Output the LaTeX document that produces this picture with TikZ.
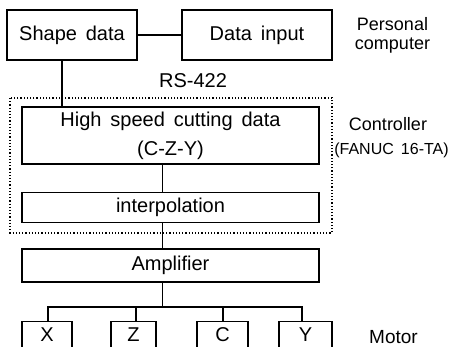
\documentclass[tikz,border=0pt]{standalone}
\usepackage{fontspec}
\setmainfont[WordSpace=1.6]{Liberation Sans}
\begin{document}
\begin{tikzpicture}[x=1pt,y=-1pt,line width=1.6pt,
		every node/.style={inner sep=0pt,font=\fontsize{20}{22}\selectfont},
		blk/.style={draw,rectangle,minimum height=#1},
		blk/.default=50,
		lbl/.style={align=center,font=\fontsize{18}{19}\selectfont},
		small/.style={font=\fontsize{16}{18}\selectfont}]
		\clip (0,0) rectangle (451,347);
		% personal computer
		\node [blk, minimum width=130] (shape) at (72,35) {Shape data};
		\node [blk, minimum width=150] (input) at (257,35) {Data input};
		\draw (shape) -- (input);
		\node [lbl] (pc) at (392.5,35.5) {Personal\\computer};
		% controller
		\draw [dotted, line width=1.2pt] (10,98) rectangle (332,233);
		\node (rs) at (193,81) {RS-422};
		\node [blk=57, minimum width=297, align=center, font=\fontsize{20}{29}\selectfont] (hsc) at (170.5,135.5) {High speed cutting data\\(C-Z-Y)};
		\node [blk=30, minimum width=297] (interp) at (170.5,207.5) {interpolation};
		\node [font=\fontsize{18}{20}\selectfont] (ctrl) at (388,124) {Controller};
		\node [small] (fanuc) at (391.5,150) {(FANUC 16-TA)};
		\draw ([xshift=-10]shape.south) -- ([xshift=-10]shape.south |- hsc.north);
		\draw ([xshift=-8]hsc.south) -- ([xshift=-8]interp.north);
		% amplifier and motors
		\node [blk=33, minimum width=297] (amp) at (170.5,265.5) {Amplifier};
		\draw ([xshift=-8]interp.south) -- ([xshift=-8]amp.north);
		\node [blk=27, minimum width=50] (mx) at (47,335) {X};
		\node [blk=27, minimum width=45] (mz) at (133.5,335) {Z};
		\node [blk=27, minimum width=51] (mc) at (222.5,335) {C};
		\node [blk=27, minimum width=53] (my) at (305.5,335) {Y};
		\node [font=\fontsize{19}{20}\selectfont] (motor) at (393.5,337) {Motor};
		\coordinate (bus) at (162.5,307);
		\draw ([xshift=-8]amp.south) -- ([xshift=-8]amp.south |- bus);
		\draw ([xshift=1]mx.north) |- (bus) -| ([xshift=-3.5]my.north);
		\draw ([xshift=2.5]mz.north) -- ([xshift=2.5]mz.north |- bus);
		\draw ([xshift=0.5]mc.north) -- ([xshift=0.5]mc.north |- bus);
	\end{tikzpicture}
\end{document}
